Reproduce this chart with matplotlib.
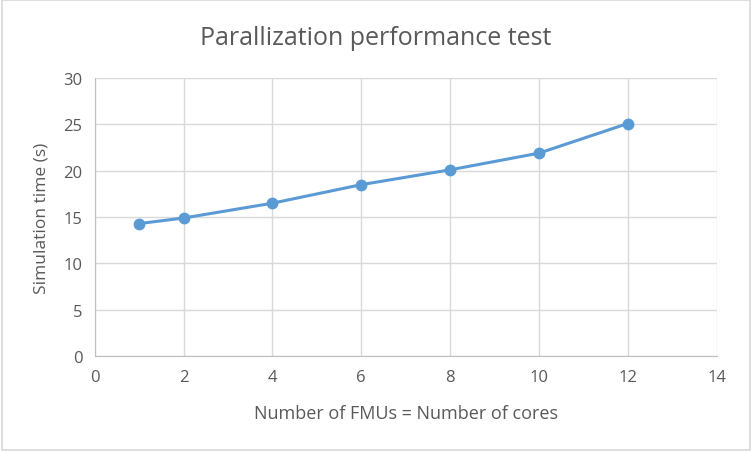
import matplotlib
matplotlib.use('Agg')
import matplotlib.pyplot as plt
from matplotlib.patches import Rectangle

# number of FMUs (= number of cores) and simulation time in seconds
cores = [1, 2, 4, 6, 8, 10, 12]
sim_time = [14.3, 14.9, 16.5, 18.5, 20.1, 21.9, 25.1]

xticks = [0, 2, 4, 6, 8, 10, 12, 14]
yticks = [0, 5, 10, 15, 20, 25, 30]

plt.rcParams['font.family'] = ['Open Sans', 'DejaVu Sans']
txt = '#595959'

fig = plt.figure(figsize=(7.52, 4.52), dpi=100)
ax = fig.add_axes([0.126, 0.210, 0.827, 0.615])

ax.plot(cores, sim_time, '-o', color='#5b9bd5', lw=2.2, markersize=7.5, zorder=3)

ax.set_xlim(0, 14)
ax.set_ylim(0, 30)
ax.set_xticks(xticks)
ax.set_yticks(yticks)
ax.grid(True, color='#d9d9d9', lw=1)
ax.set_axisbelow(True)
for s in ['top', 'right']:
    ax.spines[s].set_visible(False)
for s in ['left', 'bottom']:
    ax.spines[s].set_color('#bfbfbf')
ax.tick_params(length=0, colors=txt, labelsize=12, pad=9)

ax.set_xlabel('Number of FMUs = Number of cores', color=txt, fontsize=13, labelpad=14)
ax.set_ylabel('Simulation time (s)', color=txt, fontsize=12.5, labelpad=10)
fig.text(0.5, 0.915, 'Parallization performance test', ha='center', va='center',
         color=txt, fontsize=18)

# light frame around the whole chart
fig.patches.append(Rectangle((0.002, 0.003), 0.996, 0.994, transform=fig.transFigure,
                             fill=False, edgecolor='#d9d9d9', lw=1.2))

fig.savefig('out.png', dpi=100)
